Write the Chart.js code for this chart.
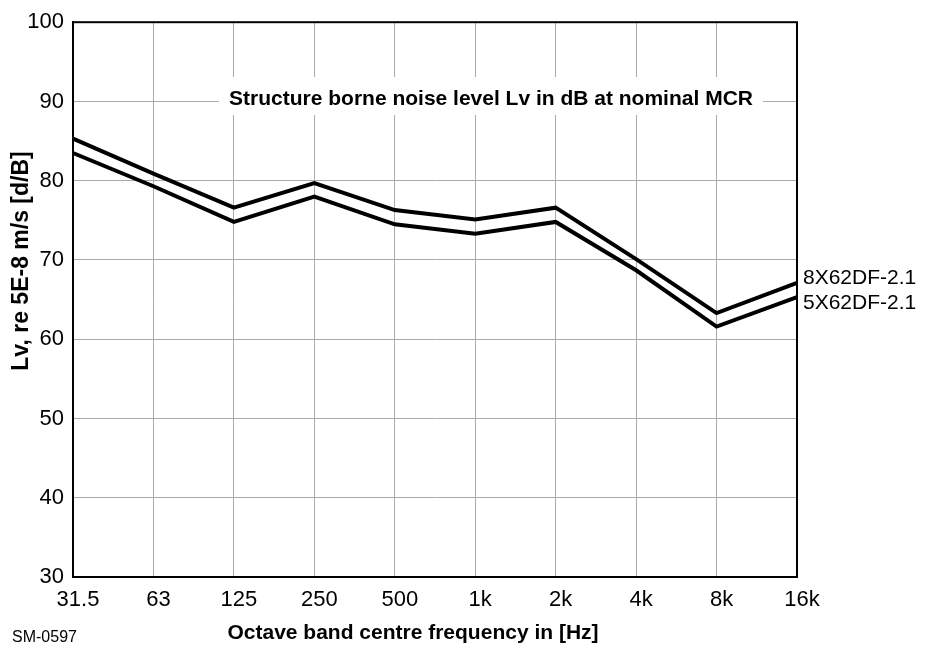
<!DOCTYPE html>
<html lang="en">
<head>
    <meta charset="UTF-8">
    <title>Structure borne noise level</title>
    <style>
        body {
            margin: 0;
            background: #fff;
        }
        #chart {
            display: block;
        }
    </style>
</head>
<body>
    <canvas id="chart" width="929" height="648"></canvas>
    <script src="https://cdn.jsdelivr.net/npm/chart.js"></script>
    <script>
        // octave band centre frequencies
        const bands = ['31.5', '63', '125', '250', '500', '1k', '2k', '4k', '8k', '16k'];
        const seriesNames = ['8X62DF-2.1', '5X62DF-2.1'];
        const lv8X62DF = [85.3, 80.9, 76.6, 79.7, 76.3, 75.1, 76.6, 70.1, 63.3, 67.1];
        const lv5X62DF = [83.5, 79.3, 74.8, 78.0, 74.5, 73.3, 74.8, 68.7, 61.6, 65.3];
        const yTicks = [30, 40, 50, 60, 70, 80, 90, 100];

        const FONT = '"Liberation Sans", Arial, sans-serif';
        const innerTitle = 'Structure borne noise level Lv in dB at nominal MCR';
        const xTitle = 'Octave band centre frequency in [Hz]';
        const yTitle = 'Lv, re 5E-8 m/s [d/B]';

        // texts drawn around the plot: inner title box, axis titles, series names
        const decorations = {
            id: 'decorations',
            beforeDatasetsDraw(chart) {
                const c = chart.ctx;
                c.save();
                c.font = 'bold 21px ' + FONT;
                const w = c.measureText(innerTitle).width;
                const cx = 491;
                c.fillStyle = '#fff';
                c.fillRect(cx - w / 2 - 10, 77, w + 20, 38);
                c.fillStyle = '#000';
                c.textAlign = 'center';
                c.textBaseline = 'alphabetic';
                c.fillText(innerTitle, cx, 105);
                c.restore();
            },
            afterDraw(chart) {
                const c = chart.ctx;
                const a = chart.chartArea;
                c.save();
                c.strokeStyle = '#000';
                c.lineWidth = 2;
                c.strokeRect(a.left, a.top, a.right - a.left, a.bottom - a.top);

                c.fillStyle = '#000';
                c.font = 'bold 21px ' + FONT;
                c.textAlign = 'center';
                c.textBaseline = 'middle';
                c.fillText(xTitle, 413, 633);

                c.save();
                c.font = 'bold 23px ' + FONT;
                c.translate(22, 261);
                c.rotate(-Math.PI / 2);
                c.fillText(yTitle, 0, 0);
                c.restore();

                c.font = '16px ' + FONT;
                c.textAlign = 'left';
                c.fillText('SM-0597', 12, 638);

                // series names next to the last point of each line
                c.font = '21px ' + FONT;
                const yScale = chart.scales.y;
                const last = bands.length - 1;
                const shifts = [-5, 6];
                chart.data.datasets.forEach((ds, i) => {
                    const y = yScale.getPixelForValue(ds.data[last]) + shifts[i];
                    c.fillText(ds.label, a.right + 6, y);
                });
                c.restore();
            }
        };

        const ctx = document.getElementById('chart').getContext('2d');
        const chart = new Chart(ctx, {
            type: 'line',
            data: {
                labels: bands,
                datasets: [
                    {
                        label: seriesNames[0],
                        data: lv8X62DF,
                        borderColor: '#000',
                        borderWidth: 4,
                        pointRadius: 0,
                        tension: 0,
                        fill: false
                    },
                    {
                        label: seriesNames[1],
                        data: lv5X62DF,
                        borderColor: '#000',
                        borderWidth: 4,
                        pointRadius: 0,
                        tension: 0,
                        fill: false
                    }
                ]
            },
            options: {
                responsive: false,
                animation: false,
                layout: {
                    padding: { left: 0, top: 14, right: 132, bottom: 0 }
                },
                plugins: {
                    legend: { display: false },
                    tooltip: { enabled: false }
                },
                scales: {
                    x: {
                        offset: false,
                        grid: { color: '#aaaaaa', lineWidth: 1, drawTicks: false },
                        border: { color: '#000', width: 2 },
                        ticks: {
                            color: '#000',
                            font: { family: FONT, size: 22 },
                            padding: 10,
                            labelOffset: 5,
                            maxRotation: 0,
                            autoSkip: false
                        },
                        afterFit(scale) { scale.height = 71; }
                    },
                    y: {
                        min: 30,
                        max: 100,
                        afterBuildTicks(scale) {
                            scale.ticks = yTicks.map(v => ({ value: v }));
                        },
                        grid: { color: '#aaaaaa', lineWidth: 1, drawTicks: false },
                        border: { color: '#000', width: 2 },
                        ticks: {
                            color: '#000',
                            font: { family: FONT, size: 22 },
                            padding: 9
                        },
                        afterFit(scale) { scale.width = 73; }
                    }
                }
            },
            plugins: [decorations]
        });
    </script>
</body>
</html>
